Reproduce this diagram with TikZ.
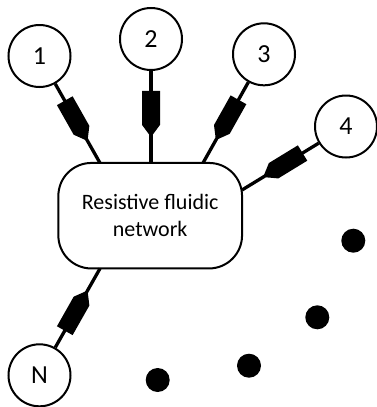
\documentclass[tikz,border=0pt]{standalone}
\usepackage{fontspec}
\setmainfont{Carlito}
\begin{document}
\begin{tikzpicture}[x=1pt,y=-1pt]
\tikzset{
  port/.style={circle, draw, line width=2pt, minimum size=62pt, inner sep=0pt, font=\fontsize{26}{30}\selectfont},
  netbox/.style={draw, line width=2pt, rounded corners=33pt, minimum width=183.7pt, minimum height=105.5pt, inner sep=0pt, align=center, font=\fontsize{22}{27}\selectfont},
  link/.style={line width=3.3pt},
  blob/.style={circle, fill=black, minimum size=24pt, inner sep=0pt},
  fitting/.pic={\fill (-22,-9) -- (12,-9) -- (22,-1.6) -- (22,1.6) -- (12,9) -- (-22,9) -- cycle;}
}
\useasboundingbox (0,0) rectangle (377,407);
\node[netbox] (box) at (150.2,215.7) {Resistive fluidic\\network};
\node[port] (c1) at (39.5,56) {1};
\node[port] (c2) at (151,39) {2};
\node[port] (c3) at (264,54.3) {3};
\node[port] (c4) at (346,126.5) {4};
\node[port] (cN) at (39.5,375.3) {N};
\coordinate (b1) at (100,163);
\coordinate (b2) at (151,163);
\coordinate (b3) at (203,163);
\coordinate (b4) at (242,190);
\coordinate (bN) at (100,268.5);
\foreach \c/\b in {c1/b1,c2/b2,c3/b3,c4/b4,cN/bN}
  \draw[link] (\c) -- (\b) pic[pos=0.455, sloped, allow upside down]{fitting};
\node[blob] (d1) at (157.7,380) {};
\node[blob] (d2) at (249,365.7) {};
\node[blob] (d3) at (317.3,317.3) {};
\node[blob] (d4) at (353.3,240.7) {};
\end{tikzpicture}
\end{document}
